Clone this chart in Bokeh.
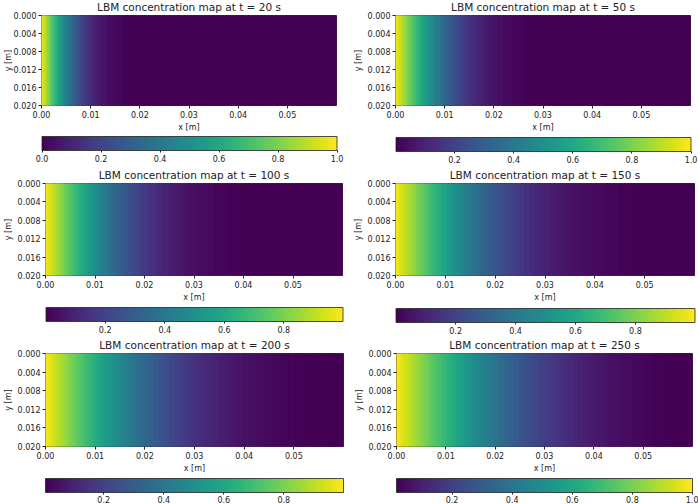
from bokeh.embed import file_html
from bokeh.layouts import column, row
from bokeh.models import ColorBar, ColumnDataSource, FixedTicker, LinearColorMapper, NumeralTickFormatter, Range1d
from bokeh.palettes import Viridis256
from bokeh.plotting import figure
from bokeh.resources import INLINE
from bokeh.transform import transform
import numpy as np

times = [20, 50, 100, 150, 200, 250]

# concentration read across the channel, at x = 0.5, 1.5, ... 59.5 mm
c20 = [.94, .82, .707, .599, .498, .408, .329, .258, .203, .153, .114, .084, .06, .042, .029, .02,
       .013, .009, .006, .004, .002, .001, .001] + [0.0] * 37
c50 = [.962, .887, .812, .74, .669, .602, .538, .477, .42, .368, .319, .275, .235, .2, .169, .141,
       .118, .097, .079, .064, .052, .041, .033, .026, .02, .016, .012, .009, .007, .005, .004, .003,
       .002, .002] + [.002] * 26
c100 = [.973, .92, .866, .813, .762, .711, .662, .614, .567, .523, .48, .439, .4, .363, .329, .297,
        .267, .239, .213, .19, .168, .148, .13, .114, .099, .086, .074, .064, .055, .047, .04, .034,
        .029, .024, .02, .017, .014, .012, .01, .008, .006, .005, .004, .0035, .003, .002, .002,
        .0015] + [.001] * 12
c150 = [.978, .935, .891, .847, .805, .762, .72, .68, .639, .601, .564, .527, .492, .458, .425, .394,
        .364, .336, .309, .284, .259, .237, .216, .196, .178, .161, .145, .13, .117, .104, .092, .082,
        .075, .066, .058, .051, .045, .039, .034, .029, .025, .022, .02, .017, .014, .012, .01, .009,
        .0075, .0064, .0054, .0047, .004, .0033, .0028, .0023, .002, .0017, .0014, .0012]
c200 = [.981, .944, .905, .868, .83, .793, .757, .721, .686, .651, .617, .583, .551, .52, .489, .46,
        .432, .404, .377, .353, .329, .305, .284, .263, .243, .225, .207, .19, .175, .16, .146, .134,
        .122, .11, .1, .091, .082, .074, .067, .06, .054, .048, .043, .038, .034, .03, .027, .024,
        .021, .018, .016, .014, .012, .011, .0095, .0082, .0072, .0062, .006, .006]
c250 = [.983, .949, .916, .882, .848, .815, .782, .749, .717, .686, .655, .624, .595, .566, .537, .509,
        .482, .456, .431, .406, .383, .36, .338, .317, .297, .278, .259, .242, .225, .209, .194, .18,
        .167, .154, .142, .131, .12, .11, .101, .093, .085, .077, .07, .064, .058, .053, .048, .043,
        .039, .035, .032, .028, .025, .023, .02, .018, .016, .015, .015, .015]
profiles = [c20, c50, c100, c150, c200, c250]

# the steep part again, at x = 0, 1, 2, ... 20 mm
n20 = [1.0, .881, .763, .652, .547, .452, .367, .292, .229, .176, .133, .098, .071, .051, .035, .024,
       .016, .01, .007, .004, .003]
n50 = [1.0, .924, .85, .776, .705, .635, .569, .506, .448, .393, .343, .297, .255, .218, .184, .154,
       .129, .107, .088, .071, .058]
n100 = [1.0, .946, .893, .84, .788, .737, .686, .638, .59, .545, .501, .459, .419, .381, .346, .313,
        .282, .253, .226, .201, .178]
n150 = [1.0, .956, .912, .869, .826, .783, .742, .7, .66, .621, .582, .545, .509, .474, .441, .409,
        .379, .35, .322, .296, .272]
n200 = [1.0, .962, .924, .887, .849, .811, .775, .739, .703, .668, .634, .6, .568, .536, .505, .474,
        .446, .418, .391, .365, .341]
n250 = [1.0, .966, .932, .899, .865, .831, .798, .765, .733, .701, .67, .639, .61, .58, .552, .523,
        .495, .469, .444, .418, .394]
near_profiles = [n20, n50, n100, n150, n200, n250]

cbar_low = [0.0, 0.002, 0.001, 0.001, 0.006, 0.015]
cbar_high = [1.0, 1.0, 0.999, 0.999, 0.999, 1.0]
cbar_ticks = [[0, .2, .4, .6, .8, 1.0], [.2, .4, .6, .8, 1.0], [.2, .4, .6, .8], [.2, .4, .6, .8],
              [.2, .4, .6, .8], [.2, .4, .6, .8, 1.0]]

x_ticks = [0, 0.01, 0.02, 0.03, 0.04, 0.05]
y_ticks = [0, 0.004, 0.008, 0.012, 0.016, 0.020]

# pixel layout of each panel: the rows overlap, their canvases are transparent
lefts = [41, 46, 45, 46, 45, 47]
tops = [25, 28, 25, 26, 25, 26]
frame_w = [295, 295, 297, 299, 298, 296]
frame_h = [93, 92, 93, 93, 94, 93]
cbar_pad = [2, 3, 3, 4, 3, 3]
cbar_standoff = [2, 2, 2, 2, 1, 1]
ylabel_standoff = [-2, 2, 2, 2, 2, 2]
panel_w = 349
panel_h = 190
row_step = 170
page_top = -13


def panel(i):
    p = figure(width=panel_w, height=panel_h, output_backend="svg", toolbar_location=None,
               x_range=Range1d(0, 0.06), y_range=Range1d(0.020, 0),
               min_border_left=lefts[i], min_border_top=tops[i],
               min_border_right=panel_w - lefts[i] - frame_w[i],
               min_border_bottom=panel_h - tops[i] - frame_h[i],
               border_fill_color=None, background_fill_color="#440154",
               title="LBM concentration map at t = %d s" % times[i], tools="")
    mapper = LinearColorMapper(palette=Viridis256, low=cbar_low[i], high=cbar_high[i])
    conc = np.r_[near_profiles[i], profiles[i]][order]
    source = ColumnDataSource(data=dict(left=edges[:-1], right=edges[1:], c=conc))
    # the profile does not change along y
    p.quad(left="left", right="right", bottom=0.020, top=0, source=source,
           fill_color=transform("c", mapper), line_color=transform("c", mapper), line_width=1.2)

    p.title.text_font = "DejaVu Sans"
    p.title.text_font_size = "10.5px"
    p.title.text_font_style = "normal"
    p.title.text_color = "#222222"
    p.title.align = "center"
    p.title.standoff = 6
    p.title.offset = 0
    p.grid.visible = False
    p.outline_line_color = "#222222"
    p.outline_line_width = 0.8

    p.xaxis.ticker = FixedTicker(ticks=x_ticks)
    p.yaxis.ticker = FixedTicker(ticks=y_ticks)
    p.xaxis.formatter = NumeralTickFormatter(format="0.00")
    p.yaxis.formatter = NumeralTickFormatter(format="0.000")
    p.xaxis.axis_label = "x [m]"
    p.yaxis.axis_label = "y [m]"
    p.axis.axis_label_text_font = "DejaVu Sans"
    p.axis.axis_label_text_font_style = "normal"
    p.axis.axis_label_text_font_size = "8px"
    p.xaxis.axis_label_standoff = 2
    p.yaxis.axis_label_standoff = ylabel_standoff[i]
    p.axis.major_label_text_font = "DejaVu Sans"
    p.axis.major_label_text_font_size = "8px"
    p.axis.major_label_standoff = 2
    p.axis.major_tick_in = 0
    p.axis.major_tick_out = 3
    p.axis.minor_tick_line_color = None
    p.axis.axis_line_color = None
    p.axis.major_tick_line_color = "#222222"
    p.axis.axis_label_text_color = "#222222"
    p.axis.major_label_text_color = "#222222"

    cb = ColorBar(color_mapper=mapper, ticker=FixedTicker(ticks=cbar_ticks[i]),
                  formatter=NumeralTickFormatter(format="0.0"), height=14, width=frame_w[i],
                  padding=cbar_pad[i], major_tick_in=0, major_tick_out=2, location="top_center",
                  major_tick_line_color="#222222", major_label_text_font="DejaVu Sans",
                  major_label_text_font_size="8px", major_label_text_color="#222222",
                  bar_line_color="#222222", bar_line_width=0.8, border_line_color=None,
                  background_fill_color=None, label_standoff=cbar_standoff[i], margin=0)
    p.add_layout(cb, "below")
    return p


# sample positions in m, cells run between the midpoints
far_x = np.arange(60) + 0.5
near_x = np.arange(21.0)
all_x = np.r_[near_x, far_x]
order = np.argsort(all_x)
centres = all_x[order] / 1000
edges = np.r_[0, (centres[:-1] + centres[1:]) / 2, 0.06]

panels = [panel(i) for i in range(6)]
overlap = panel_h - row_step
page = column(row(panels[0], panels[1], spacing=0),
              row(panels[2], panels[3], spacing=0, margin=(-overlap, 0, 0, 0)),
              row(panels[4], panels[5], spacing=0, margin=(-overlap, 0, 0, 0)),
              spacing=0, margin=(page_top, 0, 0, 0), height=504 - page_top,
              styles={"overflow": "hidden"})

open("out.html", "w").write(file_html(page, INLINE))
